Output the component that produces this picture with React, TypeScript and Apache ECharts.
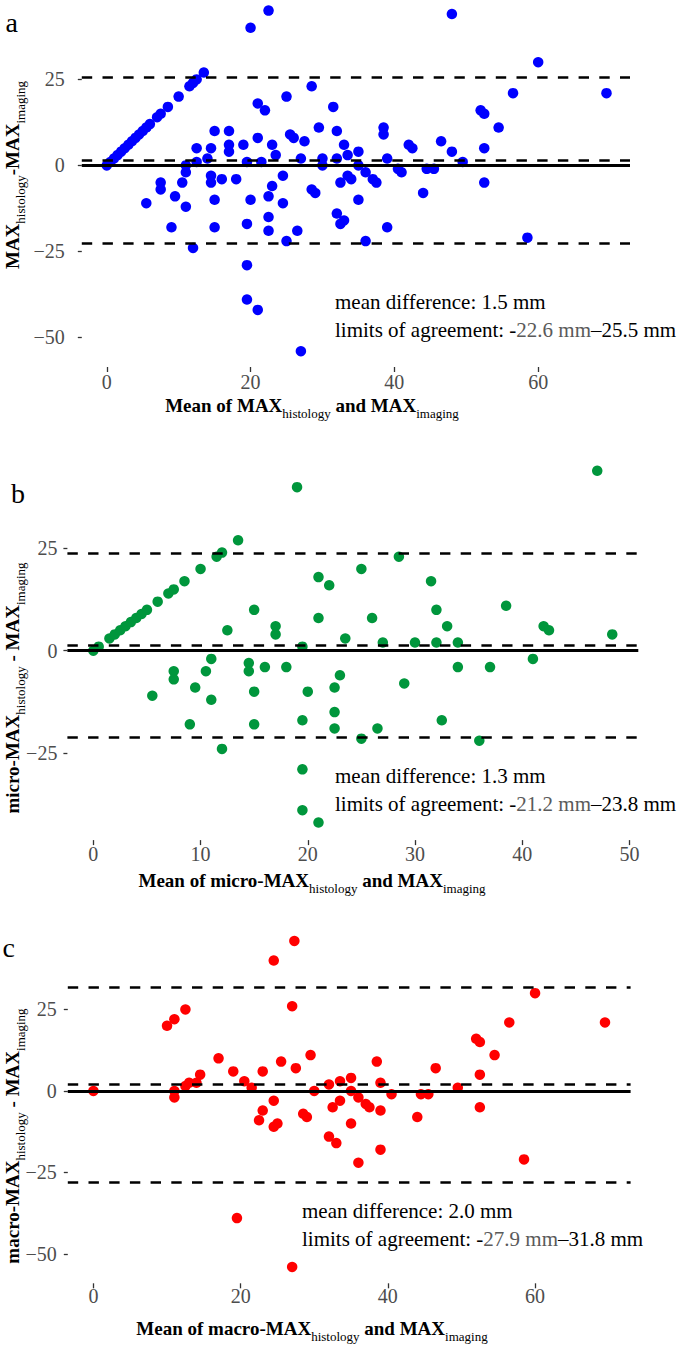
import React, { useEffect, useRef } from "react";
import * as echarts from "echarts";

const FONT = "'Liberation Serif', 'Times New Roman', serif";

// ---------- Panel a: MAX histology vs MAX imaging ----------
const aMean = [
  0, 0.5, 1, 1.5, 2, 2.5, 3, 3.5, 4, 4.5, 5, 5.5, 6, 7, 7.5, 8.5, 10, 11.5, 12, 12.5, 13.5,
  5.5, 7.5, 7.5, 9, 9.5, 10.5, 11, 11, 11, 12, 12.5, 12.5, 14, 14.5, 14.5, 14.5, 15, 15, 15, 16,
  17, 17, 17, 18, 19, 19.5, 19.5, 19.5, 19.5, 20, 21, 21, 21.5, 21, 22, 22.5, 22.5, 22.5, 23, 23,
  23.5, 24.5, 24.5, 25, 25, 25.5, 26, 26.5, 27, 27, 27.5, 28.5, 28.5, 29, 29.5, 30, 30, 31.5, 32, 32,
  32, 32.5, 33, 32.5, 33, 33.5, 33.5, 34, 35, 35, 35, 36, 36, 37, 37.5, 38.5, 38.5, 39, 39, 40.5,
  41, 42, 42.5, 44, 44.5, 45.5, 46.5, 48, 49.5, 52, 52.5, 52.5, 52.5, 54.5, 56.5, 58.5, 60, 20,
  22.5, 48, 69.5,
];
const aDiff = [
  0, 1, 2, 3, 4, 5, 6, 7, 8, 9, 10, 11, 12, 14, 15, 17, 20, 23, 24, 25, 27,
  -11, -5, -7, -18, -9, -5, -12, -2, 0, -24, 5, 1, 2, 5, -3, -5, 10, -10, -18, -4,
  10, 6, 4, -4, 6, 1, -17, -29, -39, -10, 18, 8, 1, -42, 16, -9, -15, -19, 6, -6,
  3, -3, -11, 20, -22, 9, 8, -19, 2, -54, 7, 23, -7, -8, 11, 2, 0, 17, 10, 2,
  -14, -17, -16, -5, 6, -3, 3, -4, 4, -10, 0, -2, -22, -4, -5, 11, 9, 2, -18, -1,
  -2, 6, 5, -8, -1, -1, 7, 4, 1, 16, 15, 5, -5, 11, 21, -21, 30, 40,
  45, 44, 21,
];
const aStats = [1.5, -22.6, 25.5]; // mean difference, lower limit, upper limit
const aXTicks = [0, 20, 40, 60];
const aYTicks = [25, 0, -25, -50];

// ---------- Panel b: micro-MAX ----------
const bMean = [
  0, 0.5, 1.5, 2, 2.5, 3, 3.5, 4, 4.5, 5, 6, 7, 7.5, 8.5, 10, 11.5, 12, 13.5,
  5.5, 7.5, 7.5, 9, 9.5, 10.5, 11, 11, 12, 12.5, 14.5, 14.5, 15, 15, 15, 16, 17, 17, 18, 19.5,
  19.5, 19.5, 20, 21, 21, 22, 22.5, 22.5, 22.5, 23, 23.5, 25, 25, 26, 26.5, 27, 28.5, 29, 30, 31.5,
  32, 32, 32.5, 33, 34, 34, 36, 37, 38.5, 41, 42, 42.5, 48.4, 19, 47, 19.5, 21,
];
const bDiff = [
  0, 1, 3, 4, 5, 6, 7, 8, 9, 10, 12, 14, 15, 17, 20, 23, 24, 27,
  -11, -5, -7, -18, -9, -5, -2, -12, -24, 5, -3, -5, 10, -10, -18, -4, 6, 4, -4, 1,
  -17, -29, -10, 18, 8, 16, -9, -15, -19, -6, 3, 20, -21.5, 8, -19, 2, 23, -8, 2, 17,
  10, 2, -17, 6, 2, -4, -22, -4, 11, -2, 6, 5, 4, 40, 44, -39, -42,
];
const bStats = [1.3, -21.2, 23.8];
const bXTicks = [0, 10, 20, 30, 40, 50];
const bYTicks = [25, 0, -25];

// ---------- Panel c: macro-MAX ----------
const cMean = [
  0, 10, 11, 12.5, 11, 11, 12.5, 13, 14, 14.5, 17, 19, 20.5, 21.5, 22.5, 23, 23, 24.5, 24.5, 24.5,
  25, 25.5, 27.3, 27, 27.5, 28.5, 29, 29.5, 30, 32, 32, 32.5, 33, 33.5, 33.5, 35, 35, 35, 36, 36,
  37, 37.5, 38.5, 39, 39, 39, 40.5, 44, 44.5, 45.5, 46.5, 49.5, 52, 52.5, 52.5, 52.5, 54.5, 56.5,
  58.5, 60, 69.5, 19.5, 27,
];
const cDiff = [
  0, 20, 22, 25, 0, -2, 1.5, 2.5, 2.5, 5, 10, 6, 3, 1, -9, -6, 6, 40, -3, -11,
  -10, 9, 46, 26, 7, -7, -8, 11, 0, 2, -14, -5, -16, 3, -3, 4, 0, -10, -2, -22,
  -4, -5, 9, 2.5, -6, -18, -1, -8, -1, -1, 7, 1, 16, 15, 5, -5, 11, 21,
  -21, 30, 21, -39, -54,
];
const cStats = [2.0, -27.9, 31.8];
const cXTicks = [0, 20, 40, 60];
const cYTicks = [25, 0, -25, -50];

// ---------- texts ----------
const aXTitle = "{m|Mean of MAX}{s|histology}{m| and MAX}{s|imaging}";
const aYTitle = "{m|MAX}{s|histology}{m|-MAX}{s|imaging}";
const bXTitle = "{m|Mean of micro-MAX}{s|histology}{m| and MAX}{s|imaging}";
const bYTitle = "{m|micro-MAX}{s|histology}{m| - MAX}{s|imaging}";
const cXTitle = "{m|Mean of macro-MAX}{s|histology}{m| and MAX}{s|imaging}";
const cYTitle = "{m|macro-MAX}{s|histology}{m| - MAX}{s|imaging}";

const minusFmt = (v: number) => (v < 0 ? "\u2212" + Math.abs(v) : String(v));

type PanelCfg = {
  mean: number[];
  diff: number[];
  stats: number[];
  color: string;
  xRange: number[];
  yRange: number[];
  xTicks: number[];
  yTicks: number[];
  grid: { left: number; top: number; width: number; height: number };
  yLabelMargin: number;
  xLabelMargin: number;
};

const panels: PanelCfg[] = [
  {
    mean: aMean, diff: aDiff, stats: aStats, color: "#0000ff",
    xRange: [-3.47, 72.77], yRange: [-58.6, 48.08],
    xTicks: aXTicks, yTicks: aYTicks,
    grid: { left: 81.8, top: 0, width: 548.2, height: 367 },
    yLabelMargin: 17, xLabelMargin: 5,
  },
  {
    mean: bMean, diff: bDiff, stats: bStats, color: "#00963c",
    xRange: [-2.42, 50.83], yRange: [-46.3, 48.3],
    xTicks: bXTicks, yTicks: bYTicks,
    grid: { left: 67.4, top: 453.2, width: 570.9, height: 386.9 },
    yLabelMargin: 10, xLabelMargin: 4,
  },
  {
    mean: cMean, diff: cDiff, stats: cStats, color: "#ff0000",
    xRange: [-3.48, 72.98], yRange: [-59, 51],
    xTicks: cXTicks, yTicks: cYTicks,
    grid: { left: 67.8, top: 924.7, width: 562.8, height: 358.6 },
    yLabelMargin: 11, xLabelMargin: 3,
  },
];

const richTitle = {
  m: { fontFamily: FONT, fontSize: 19, fontWeight: "bold", lineHeight: 19, verticalAlign: "top", fill: "#000" },
  s: {
    fontFamily: FONT, fontSize: 13, fontWeight: "normal", lineHeight: 13,
    padding: [11, 0, 0, 0], verticalAlign: "top", fill: "#000",
  },
};

const richNote = {
  k: { fontFamily: FONT, fontSize: 21, fill: "#000" },
  g: { fontFamily: FONT, fontSize: 21, fill: "#5a5a5a" },
};

function textEl(x: number, y: number, text: string, opts: any = {}) {
  const { rotation, align = "left", fontSize = 21, rich } = opts;
  return {
    type: "text",
    x,
    y,
    rotation: rotation || 0,
    silent: true,
    style: {
      text,
      fontFamily: FONT,
      fontSize,
      fill: "#000",
      textAlign: align,
      align,
      textVerticalAlign: "middle",
      verticalAlign: "middle",
      rich,
    },
  };
}

const dashPattern = [10.4, 10.3];

function buildOption() {
  const grid: any[] = [];
  const xAxis: any[] = [];
  const yAxis: any[] = [];
  const series: any[] = [];

  panels.forEach((p, i) => {
    grid.push({ ...p.grid, containLabel: false, outerBoundsMode: "none" });
    xAxis.push({
      type: "value",
      gridIndex: i,
      position: "bottom",
      min: p.xRange[0],
      max: p.xRange[1],
      axisLine: { show: false, onZero: false },
      splitLine: { show: false },
      axisTick: {
        show: true,
        length: 5,
        customValues: p.xTicks,
        lineStyle: { color: "#333333", width: 1.3 },
      },
      axisLabel: {
        show: true,
        customValues: p.xTicks,
        color: "#4d4d4d",
        fontFamily: FONT,
        fontSize: 20,
        margin: p.xLabelMargin,
      },
    });
    yAxis.push({
      type: "value",
      gridIndex: i,
      position: "left",
      min: p.yRange[0],
      max: p.yRange[1],
      axisLine: { show: false, onZero: false },
      splitLine: { show: false },
      axisTick: {
        show: true,
        length: 4,
        customValues: p.yTicks,
        lineStyle: { color: "#333333", width: 1.3 },
      },
      axisLabel: {
        show: true,
        customValues: p.yTicks,
        formatter: minusFmt,
        color: "#4d4d4d",
        fontFamily: FONT,
        fontSize: 20,
        margin: p.yLabelMargin,
      },
    });
    const data = p.mean.map((m, k) => [m, p.diff[k]]);
    series.push({
      type: "scatter",
      xAxisIndex: i,
      yAxisIndex: i,
      data,
      symbol: "circle",
      symbolSize: 10.5,
      itemStyle: { color: p.color, opacity: 1 },
      emphasis: { disabled: true },
      markLine: {
        silent: true,
        symbol: ["none", "none"],
        label: { show: false },
        emphasis: { disabled: true },
        animation: false,
        data: [
          { yAxis: 0, lineStyle: { type: "solid", width: 3, color: "#000" } },
          { yAxis: p.stats[0], lineStyle: { type: dashPattern, width: 2.5, color: "#000" } },
          { yAxis: p.stats[1], lineStyle: { type: dashPattern, width: 2.5, color: "#000" } },
          { yAxis: p.stats[2], lineStyle: { type: dashPattern, width: 2.5, color: "#000" } },
        ],
      },
    });
  });

  const fmt = (v: number) => v.toFixed(1);
  const notes = [
    { stats: aStats, x: 335, y: 302 },
    { stats: bStats, x: 335, y: 775.5 },
    { stats: cStats, x: 302, y: 1211 },
  ];

  const graphic: any[] = [
    textEl(5.5, 22, "a", { fontSize: 28 }),
    textEl(11, 493.5, "b", { fontSize: 28 }),
    textEl(2.5, 947, "c", { fontSize: 28 }),
    textEl(312, 405.5, aXTitle, { align: "center", rich: richTitle }),
    textEl(312, 880.5, bXTitle, { align: "center", rich: richTitle }),
    textEl(312, 1328.5, cXTitle, { align: "center", rich: richTitle }),
    textEl(12, 175, aYTitle, { align: "center", rich: richTitle, rotation: Math.PI / 2 }),
    textEl(12, 688, bYTitle, { align: "center", rich: richTitle, rotation: Math.PI / 2 }),
    textEl(12, 1136, cYTitle, { align: "center", rich: richTitle, rotation: Math.PI / 2 }),
  ];
  notes.forEach((n) => {
    graphic.push(
      textEl(n.x, n.y, "{k|mean difference: " + fmt(n.stats[0]) + " mm}", { rich: richNote })
    );
    graphic.push(
      textEl(
        n.x,
        n.y + 28,
        "{k|limits of agreement: -}{g|" + fmt(Math.abs(n.stats[1])) + " mm}{k|\u2013" + fmt(n.stats[2]) + " mm}",
        { rich: richNote }
      )
    );
  });

  return {
    animation: false,
    backgroundColor: "#ffffff",
    textStyle: { fontFamily: FONT },
    grid,
    xAxis,
    yAxis,
    series,
    graphic: { elements: graphic },
  };
}

export default function App() {
  const ref = useRef<HTMLDivElement>(null);
  useEffect(() => {
    if (!ref.current) return;
    const chart = echarts.init(ref.current, undefined, { renderer: "svg" });
    chart.setOption(buildOption() as any);
    return () => chart.dispose();
  }, []);
  return (
    <div
      ref={ref}
      style={{ position: "absolute", left: 0, top: 0, width: 685, height: 1345, background: "#fff" }}
    />
  );
}
